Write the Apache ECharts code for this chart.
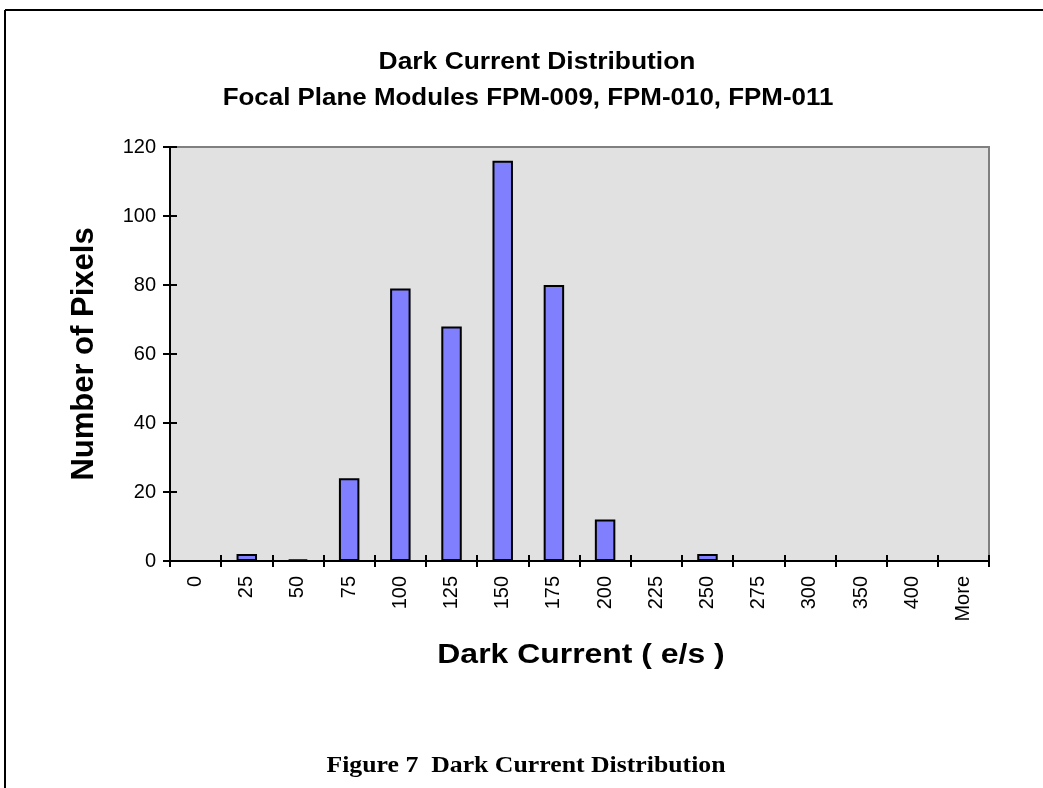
<!DOCTYPE html>
<html>
<head>
<meta charset="utf-8">
<script src="https://cdn.jsdelivr.net/npm/echarts@6/dist/echarts.min.js"></script>
<style>
html,body{margin:0;padding:0;background:#fff;}
#chart{width:1043px;height:788px;}
</style>
</head>
<body>
<div id="chart"></div>
<script>
const categories = ['0','25','50','75','100','125','150','175','200','225','250','275','300','350','400','More'];
const pixelCounts = [0, 2, 0.5, 24, 79, 68, 116, 80, 12, 0, 2, 0, 0, 0, 0, 0];
const yMin = 0, yMax = 120, yInterval = 20;
const titleLine1 = 'Dark Current Distribution';
const titleLine2 = 'Focal Plane Modules FPM-009, FPM-010, FPM-011';
const xAxisTitle = 'Dark Current ( e/s )';
const yAxisTitle = 'Number of Pixels';
const caption = 'Figure 7  Dark Current Distribution';

const sans = '"Liberation Sans", Arial, sans-serif';
const serif = '"Liberation Serif", "Times New Roman", serif';

const chart = echarts.init(document.getElementById('chart'), null, {renderer: 'canvas'});

const labelStyle = {color: '#000', fontFamily: sans, fontSize: 20};

chart.setOption({
  animation: false,
  backgroundColor: '#fff',
  grid: {
    left: 170, top: 147, width: 819, height: 414,
    show: true, backgroundColor: '#E1E1E1',
    borderColor: '#808080', borderWidth: 2
  },
  xAxis: [
    {
      type: 'category', data: categories, position: 'bottom',
      boundaryGap: true,
      axisLine: {show: true, lineStyle: {color: '#000', width: 2}},
      axisTick: {show: true, inside: false, length: 6, lineStyle: {color: '#000', width: 2}},
      axisLabel: Object.assign({rotate: 90, margin: 15, interval: 0}, labelStyle),
      splitLine: {show: false}
    },
    {
      type: 'category', data: categories, position: 'bottom', offset: 0,
      boundaryGap: true,
      axisLine: {show: false},
      axisTick: {show: true, inside: true, length: 6, lineStyle: {color: '#000', width: 2}},
      axisLabel: {show: false},
      splitLine: {show: false}
    }
  ],
  yAxis: [
    {
      type: 'value', min: yMin, max: yMax, interval: yInterval, position: 'left',
      name: yAxisTitle, nameLocation: 'middle', nameGap: 70, nameRotate: 90,
      nameTextStyle: {color: '#000', fontFamily: sans, fontSize: 31, fontWeight: 'bold'},
      axisLine: {show: true, lineStyle: {color: '#000', width: 2}},
      axisTick: {show: true, inside: false, length: 7, lineStyle: {color: '#000', width: 2}},
      axisLabel: Object.assign({margin: 14}, labelStyle),
      splitLine: {show: false}
    },
    {
      type: 'value', min: yMin, max: yMax, interval: yInterval, position: 'left', offset: 0,
      axisLine: {show: false},
      axisTick: {show: true, inside: true, length: 7, lineStyle: {color: '#000', width: 2}},
      axisLabel: {show: false},
      splitLine: {show: false}
    }
  ],
  series: [{
    type: 'bar',
    xAxisIndex: 0, yAxisIndex: 0,
    data: pixelCounts,
    barWidth: '40%',
    itemStyle: {color: '#8080FF', borderColor: '#000', borderWidth: 2},
    silent: true
  }],
  graphic: [
    {type: 'line', shape: {x1: 5, y1: 10, x2: 1043, y2: 10}, style: {stroke: '#000', lineWidth: 2}},
    {type: 'line', shape: {x1: 5, y1: 10, x2: 5, y2: 788}, style: {stroke: '#000', lineWidth: 2}},
    {type: 'text', x: 537, y: 62, scaleX: 1.1,
      style: {text: titleLine1, fill: '#000', font: 'bold 24px ' + sans, textAlign: 'center', textVerticalAlign: 'middle'}},
    {type: 'text', x: 528, y: 98, scaleX: 1.08,
      style: {text: titleLine2, fill: '#000', font: 'bold 24px ' + sans, textAlign: 'center', textVerticalAlign: 'middle'}},
    {type: 'text', x: 581, y: 655, scaleX: 1.14,
      style: {text: xAxisTitle, fill: '#000', font: 'bold 28px ' + sans, textAlign: 'center', textVerticalAlign: 'middle'}},
    {type: 'text', x: 526, y: 766, scaleX: 1.12,
      style: {text: caption, fill: '#000', font: 'bold 23px ' + serif, textAlign: 'center', textVerticalAlign: 'middle'}}
  ]
});
</script>
</body>
</html>
